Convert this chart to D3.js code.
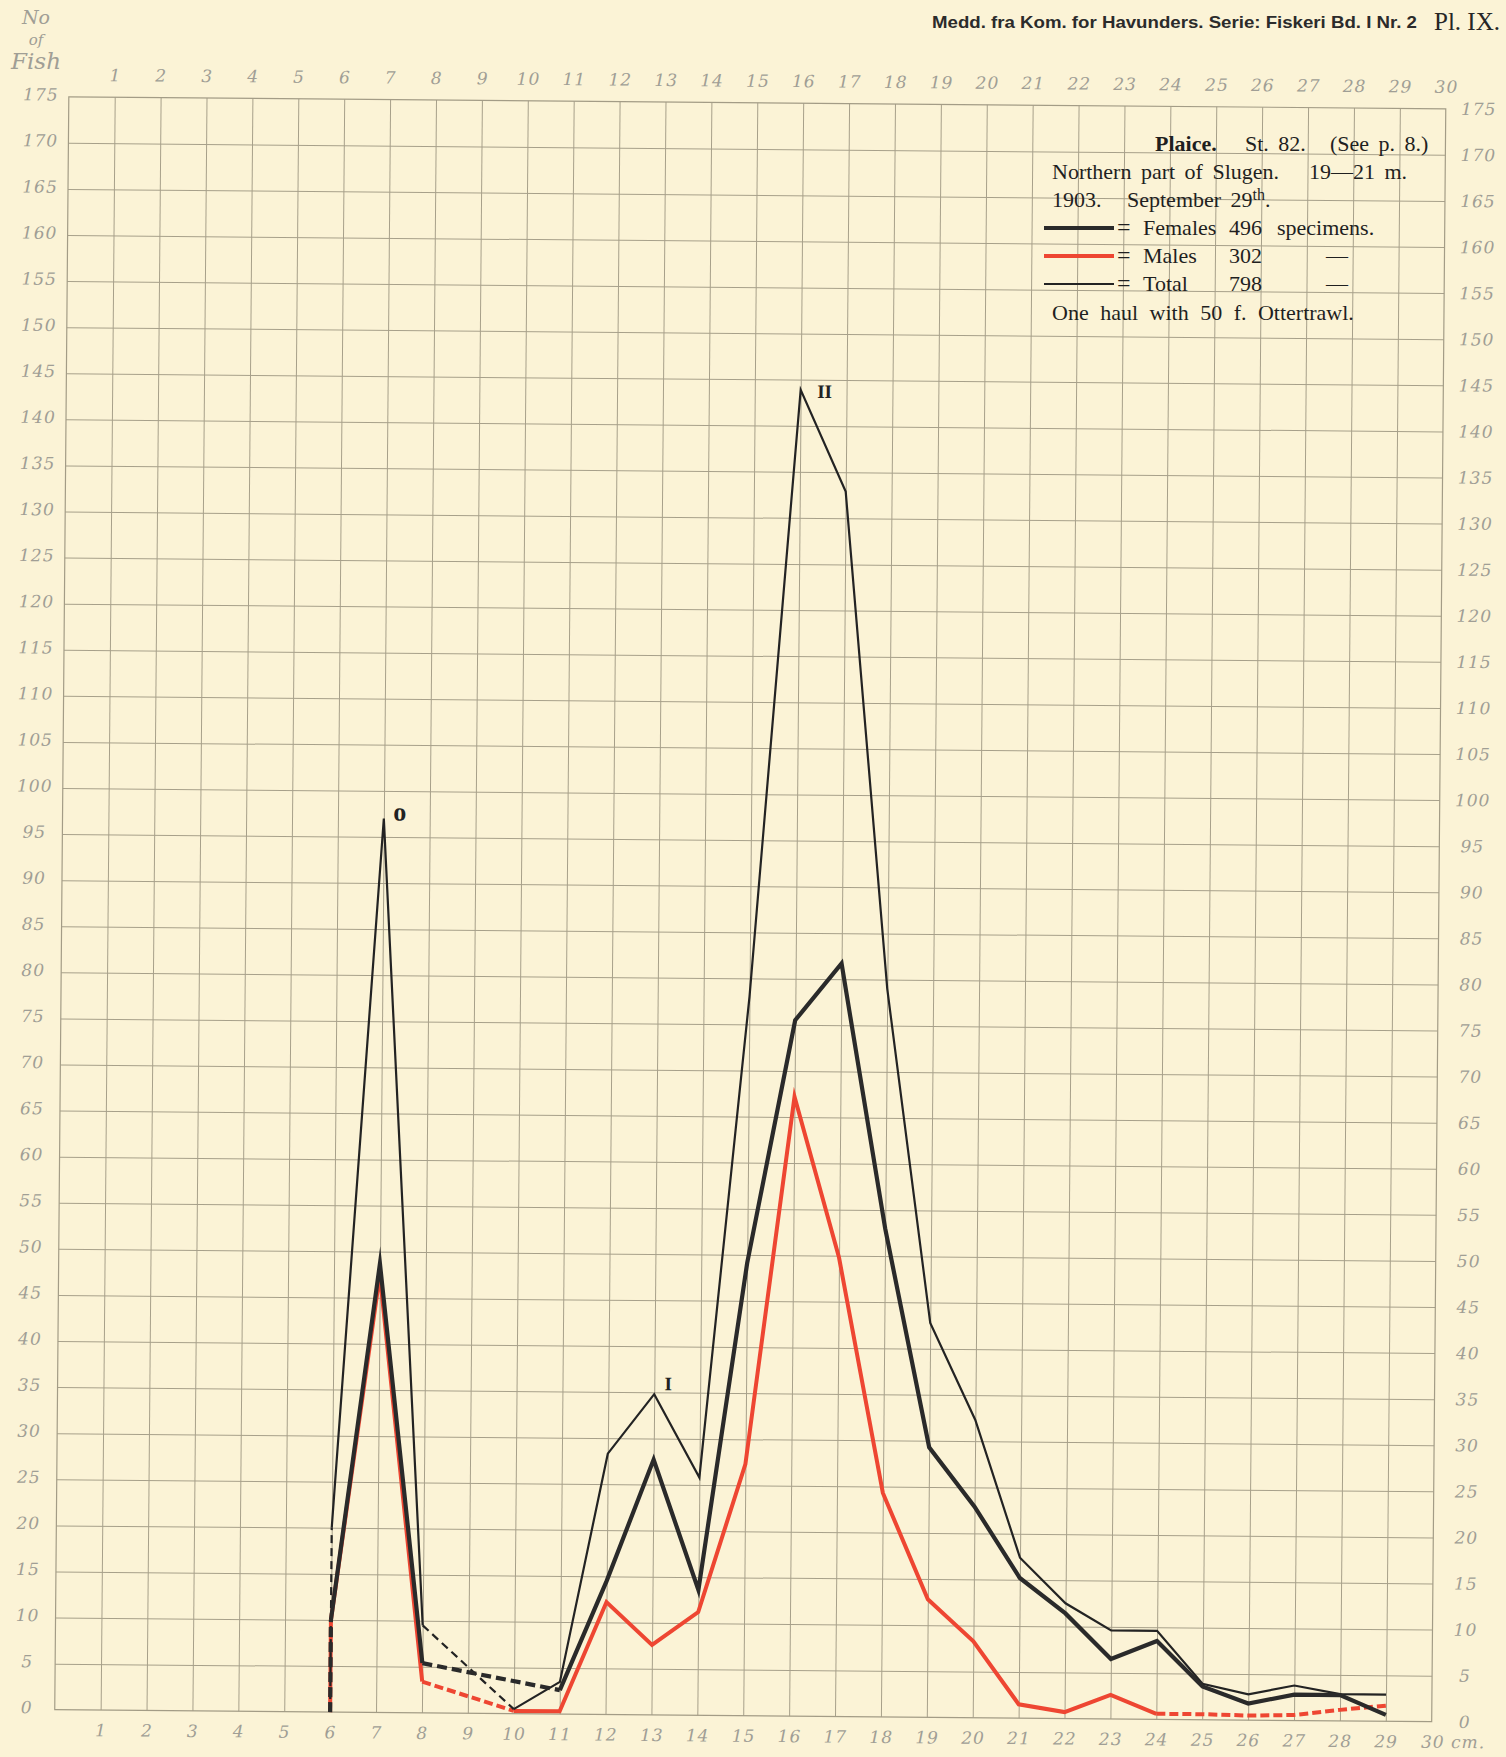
<!DOCTYPE html>
<html>
<head>
<meta charset="utf-8">
<script src="https://cdn.jsdelivr.net/npm/d3@7"></script>
<style>
  body { margin: 0; background: #fbf3d6; }
  svg { display: block; }
  .tick-label text { font-family: "DejaVu Serif", serif; font-style: italic; font-size: 17px; fill: #a09e95; letter-spacing: 1px; }
  .grid line { stroke: #a7a08a; stroke-width: 1; }
  .legend text { font-family: "Liberation Serif", "Times New Roman", serif; font-size: 22px; fill: #1f1f1f; word-spacing: 4px; }
  .peak { font-family: "Liberation Serif", serif; font-weight: bold; fill: #222; }
</style>
</head>
<body>
<svg id="chart" width="1506" height="1757"></svg>
<script>
// Plaice, St. 82 -- length classes (cm) and number of fish
var sizes   = [6, 7, 8, 9, 10, 11, 12, 13, 14, 15, 16, 17, 18, 19, 20, 21, 22, 23, 24, 25, 26, 27, 28, 29];
var females = [10, 48.7, 5.4, null, null, 2.6, 14.5, 27.7, 13.6, 49.1, 75.5, 81.7, 53, 29.3, 22.9, 15.2, 11.4, 6.5, 8.5, 3.6, 1.8, 2.8, 2.8, 0.7];
var males   = [10, 47.5, 3.4, null, 0.3, 0.3, 12.2, 7.6, 11.2, 27.3, 67.2, 49.8, 24.3, 12.8, 8.3, 1.5, 0.7, 2.6, 0.6, 0.6, 0.5, 0.6, 1.2, 1.7];
var total   = [20, 97, 9.5, null, 0.5, 3.5, 28.3, 34.8, 25.8, 78, 143.9, 132.9, 79, 42.8, 32.3, 17.4, 12.5, 9.6, 9.6, 3.9, 2.8, 3.8, 2.9, 2.9];

// stretches drawn as broken lines
var femalesDashed = [[8, 11]];
var malesDashed   = [[8, 10], [24, 29]];
var totalDashed   = [[8, 10]];

// group marks "o", "I", "II" on the total curve
var peakSizes  = [7, 13, 16];
var peakTexts  = ['o', 'I', 'II'];

var xTicks = d3.range(1, 31);
var yTicks = d3.range(0, 176, 5);

var W = 1506, H = 1757;
var plot = {left: 61.75, top: 102.75, width: 1377, height: 1613};
var tilt = 0.5; // the printed plate sits slightly askew

function translate(tx, ty) {
  return 'translate(' + (tx || 0) + ', ' + (ty || 0) + ')';
}

var x = d3.scaleLinear().domain([0, 30]).range([plot.left, plot.left + plot.width]);
var y = d3.scaleLinear().domain([0, 175]).range([plot.top + plot.height, plot.top]);

var svg = d3.select('#chart');
svg.append('rect').attr('width', W).attr('height', H).attr('fill', '#fbf3d6');

var g = svg.append('g')
  .attr('transform', 'rotate(' + tilt + ',' + (plot.left + plot.width / 2) + ',' + (plot.top + plot.height / 2) + ')');

// grid
g.append('g')
  .attr('class', 'grid')
  .attr('transform', translate(0, plot.top + plot.height))
  .call(d3.axisBottom(x).tickValues(d3.range(1, 30)).tickSize(-plot.height).tickFormat(''))
  .call(function(s) { s.select('.domain').remove(); });

g.append('g')
  .attr('class', 'grid')
  .attr('transform', translate(plot.left, 0))
  .call(d3.axisLeft(y).tickValues(d3.range(5, 175, 5)).tickSize(-plot.width).tickFormat(''))
  .call(function(s) { s.select('.domain').remove(); });

g.append('rect')
  .attr('x', plot.left).attr('y', plot.top)
  .attr('width', plot.width).attr('height', plot.height)
  .attr('fill', 'none').attr('stroke', '#a39c86').attr('stroke-width', 1.2);

// tick labels on all four sides
function noDomain(s) { s.select('.domain').remove(); }

g.append('g')
  .attr('class', 'tick-label')
  .attr('transform', translate(0, plot.top))
  .call(d3.axisTop(x).tickValues(xTicks).tickSize(0).tickPadding(16))
  .call(noDomain);

var bottomAxis = g.append('g')
  .attr('class', 'tick-label')
  .attr('transform', translate(0, plot.top + plot.height))
  .call(d3.axisBottom(x).tickValues(xTicks).tickSize(0).tickPadding(14)
    .tickFormat(function(d) { return d === 30 ? '30 cm.' : d; }))
  .call(noDomain);
bottomAxis.selectAll('text')
  .filter(function(d) { return d === 30; })
  .attr('text-anchor', 'start')
  .attr('dx', -11);

g.append('g')
  .attr('class', 'tick-label')
  .attr('transform', translate(plot.left, 0))
  .call(d3.axisLeft(y).tickValues(yTicks).tickSize(0))
  .call(noDomain)
  .selectAll('text')
    .attr('x', -28)
    .attr('dy', '0.2em')
    .attr('text-anchor', 'middle');

g.append('g')
  .attr('class', 'tick-label')
  .attr('transform', translate(plot.left + plot.width, 0))
  .call(d3.axisRight(y).tickValues(yTicks).tickSize(0))
  .call(noDomain)
  .selectAll('text')
    .attr('x', 33)
    .attr('text-anchor', 'middle');

// curves
var line = d3.line()
  .x(function(d) { return x(d.size); })
  .y(function(d) { return y(d.value); });

function seriesPoints(values) {
  return sizes
    .map(function(s, i) { return {size: s, value: values[i]}; })
    .filter(function(d) { return d.value != null; });
}

function inRanges(a, b, ranges) {
  return ranges.some(function(r) { return a >= r[0] && b <= r[1]; });
}

function drawSeries(values, dashed, style) {
  var pts = seriesPoints(values);
  var layer = g.append('g')
    .attr('fill', 'none')
    .attr('stroke', style.color)
    .attr('stroke-width', style.width)
    .attr('stroke-linejoin', 'miter')
    .attr('stroke-miterlimit', 12);

  // drop from zero up to the first class
  layer.append('path')
    .attr('d', line([{size: pts[0].size, value: 0}, pts[0]]))
    .attr('stroke-dasharray', style.leadSolid ? null : style.dash);

  // split into runs of solid / broken segments
  var runs = [];
  for (var i = 1; i < pts.length; i++) {
    var isDashed = inRanges(pts[i - 1].size, pts[i].size, dashed);
    var last = runs[runs.length - 1];
    if (last && last.dashed === isDashed)
      last.points.push(pts[i]);
    else
      runs.push({dashed: isDashed, points: [pts[i - 1], pts[i]]});
  }

  layer.selectAll('path.run')
    .data(runs)
    .enter().append('path')
      .attr('class', 'run')
      .attr('d', function(r) { return line(r.points); })
      .attr('stroke-dasharray', function(r) { return r.dashed ? style.dash : null; });
}

drawSeries(males, malesDashed, {color: '#ee4632', width: 4, dash: '9,4', leadSolid: true});
drawSeries(total, totalDashed, {color: '#232323', width: 2.2, dash: '8,5'});
drawSeries(females, femalesDashed, {color: '#2a2a2a', width: 4.2, dash: '10,5'});

// group marks
var peakOffsets = [[16, 2, 26], [14, -4, 19], [24, 8, 19]];
g.selectAll('text.peak')
  .data(peakSizes)
  .enter().append('text')
    .attr('class', 'peak')
    .attr('text-anchor', 'middle')
    .attr('x', function(d, i) { return x(d) + peakOffsets[i][0]; })
    .attr('y', function(d, i) { return y(total[sizes.indexOf(d)]) + peakOffsets[i][1]; })
    .attr('font-size', function(d, i) { return peakOffsets[i][2]; })
    .text(function(d, i) { return peakTexts[i]; });

// legend block
var legend = svg.append('g').attr('class', 'legend');

function put(txt, lx, ly, bold) {
  return legend.append('text')
    .attr('x', lx).attr('y', ly)
    .attr('font-weight', bold ? 'bold' : null)
    .text(txt);
}

put('Plaice.', 1155, 151, true);
put('St. 82.', 1245, 151);
put('(See p. 8.)', 1330, 151);
put('Northern part of Slugen.', 1052, 179);
put('19—21 m.', 1309, 179);
put('1903.', 1052, 207);
var sept = put('September 29', 1127, 207);
sept.append('tspan').attr('dy', -7).attr('font-size', 16).text('th');
sept.append('tspan').attr('dy', 7).text('.');

var legendRows = [
  {label: 'Females', count: '496', tail: 'specimens.', color: '#2a2a2a', width: 4.2, y: 235},
  {label: 'Males',   count: '302', tail: '—',          color: '#ee4632', width: 4,   y: 263},
  {label: 'Total',   count: '798', tail: '—',          color: '#232323', width: 2.2, y: 291}
];

legendRows.forEach(function(r) {
  legend.append('line')
    .attr('x1', 1044).attr('x2', 1114)
    .attr('y1', r.y - 7).attr('y2', r.y - 7)
    .attr('stroke', r.color).attr('stroke-width', r.width);
  put('=', 1117, r.y).style('font-size', '24px');
  put(r.label, 1143, r.y);
  put(r.count, 1229, r.y);
  put(r.tail, r.tail === '—' ? 1326 : 1277, r.y);
});

put('One haul with 50 f. Ottertrawl.', 1052, 320).style('word-spacing', '6px');

// plate header
svg.append('text')
  .attr('x', 932).attr('y', 28)
  .attr('font-family', '"Liberation Sans", sans-serif')
  .attr('font-size', 17)
  .attr('font-weight', 'bold')
  .attr('fill', '#2b2b2b')
  .attr('textLength', 485)
  .attr('lengthAdjust', 'spacingAndGlyphs')
  .text('Medd. fra Kom. for Havunders. Serie: Fiskeri Bd. I Nr. 2');

svg.append('text')
  .attr('x', 1434).attr('y', 30)
  .attr('font-family', '"Liberation Serif", serif')
  .attr('font-size', 25)
  .attr('fill', '#262626')
  .text('Pl. IX.');

// y-axis title
var yTitle = svg.append('g')
  .attr('font-family', '"DejaVu Serif", serif')
  .attr('font-style', 'italic')
  .attr('fill', '#a09e95')
  .attr('text-anchor', 'middle');
yTitle.append('text').attr('x', 36).attr('y', 24).attr('font-size', 19).text('No');
yTitle.append('text').attr('x', 36).attr('y', 45).attr('font-size', 15).text('of');
yTitle.append('text').attr('x', 36).attr('y', 69).attr('font-size', 23).text('Fish');
</script>
</body>
</html>
